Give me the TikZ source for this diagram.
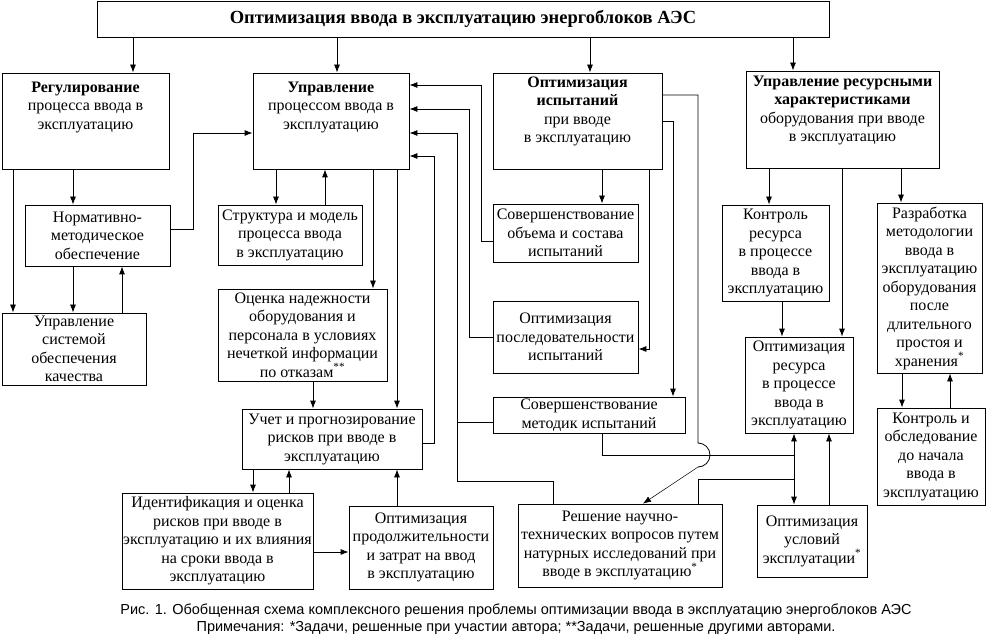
\documentclass[tikz,border=0pt]{standalone}
\usepackage{fontspec}
\setmainfont{Liberation Serif}
\setsansfont{Liberation Sans}
\usetikzlibrary{arrows.meta}
\tikzset{
  blok/.style={draw, line width=0.8pt, inner sep=1pt, align=center, font=\fontsize{16}{18.5}\selectfont},
  txt/.style={inner sep=0pt, align=center, anchor=north, font=\fontsize{16}{18.5}\selectfont},
  lin/.style={line width=0.8pt},
  arr/.style={line width=0.8pt, -{Latex[length=8pt,width=6pt]}},
  arrboth/.style={line width=0.8pt, {Latex[length=8pt,width=6pt]}-{Latex[length=8pt,width=6pt]}},
}
\begin{document}
\begin{tikzpicture}[x=1pt,y=-1pt]
\useasboundingbox (0,0) rectangle (986,639);
% upper row
\node[blok, minimum width=732pt, minimum height=36pt, font=\fontsize{18.5}{22}\selectfont\bfseries] (title) at (463,19) {Оптимизация ввода в эксплуатацию энергоблоков АЭС};
\node[blok, minimum width=167pt, minimum height=96pt] (reg) at (85.5,121) {};
\node[txt] (regtxt) at ([yshift=-9pt]reg.north) {\textbf{Регулирование}\\процесса ввода в\\эксплуатацию};
\node[blok, minimum width=156pt, minimum height=96pt] (upr) at (331,121) {};
\node[txt] (uprtxt) at ([yshift=-9pt]upr.north) {\textbf{Управление}\\процессом ввода в\\эксплуатацию};
\node[blok, minimum width=169pt, minimum height=96pt] (opt) at (577.5,121) {};
\node[txt] (opttxt) at ([yshift=-4pt]opt.north) {\textbf{Оптимизация}\\\textbf{испытаний}\\при вводе\\в эксплуатацию};
\node[blok, minimum width=193pt, minimum height=97pt] (res) at (842.5,119.5) {};
\node[txt] (restxt) at ([yshift=-5pt]res.north) {\textbf{Управление ресурсными}\\\textbf{характеристиками}\\оборудования при вводе\\в эксплуатацию};
% left column
\node[blok, minimum width=145pt, minimum height=61pt] (norm) at (97.5,235.5) {Нормативно-\\методическое\\обеспечение};
\node[blok, minimum width=144pt, minimum height=72pt] (kach) at (74,349) {Управление\\системой\\обеспечения\\качества};
% second column
\node[blok, minimum width=144pt, minimum height=60pt] (strukt) at (290,235) {Структура и модель\\процесса ввода\\в эксплуатацию};
\node[blok, minimum width=169pt, minimum height=92pt] (nadezh) at (302.5,335) {Оценка надежности\\оборудования и\\персонала в условиях\\нечеткой информации\\по отказам\textsuperscript{**}};
\node[blok, minimum width=180pt, minimum height=60pt] (riski) at (332,439) {Учет и прогнозирование\\рисков при вводе в\\эксплуатацию};
\node[blok, minimum width=191pt, minimum height=96pt] (ident) at (217.5,541) {Идентификация и оценка\\рисков при вводе в\\эксплуатацию и их влияния\\на сроки ввода в\\эксплуатацию};
\node[blok, minimum width=144pt, minimum height=83pt] (prod) at (421,547.5) {Оптимизация\\продолжительности\\и затрат на ввод\\в эксплуатацию};
% third column
\node[blok, minimum width=145pt, minimum height=58pt] (obyom) at (565.5,233) {Совершенствование\\объема и состава\\испытаний};
\node[blok, minimum width=145pt, minimum height=72pt] (posl) at (565.5,337) {Оптимизация\\последовательности\\испытаний};
\node[blok, minimum width=192pt, minimum height=36pt] (metod) at (589,415) {Совершенствование\\методик испытаний};
\node[blok, minimum width=204pt, minimum height=83pt] (resh) at (620,545.5) {Решение научно-\\технических вопросов путем\\натурных исследований при\\вводе в эксплуатацию\textsuperscript{*}};
% right columns
\node[blok, minimum width=107pt, minimum height=96pt] (kontr) at (775.5,253) {Контроль\\ресурса\\в процессе\\ввода в\\эксплуатацию};
\node[blok, minimum width=108pt, minimum height=96pt] (optres) at (799,385) {Оптимизация\\ресурса\\в процессе\\ввода в\\эксплуатацию};
\node[blok, minimum width=110pt, minimum height=72pt] (usl) at (812,541) {Оптимизация\\условий\\эксплуатации\textsuperscript{*}};
\node[blok, minimum width=105pt, minimum height=170pt] (razr) at (929.5,288) {Разработка\\методологии\\ввода в\\эксплуатацию\\оборудования\\после\\длительного\\простоя и\\хранения\textsuperscript{*}};
\node[blok, minimum width=108pt, minimum height=97pt] (obsl) at (931,456.5) {Контроль и\\обследование\\до начала\\ввода в\\эксплуатацию};
% caption
\node[inner sep=0pt, align=center, font=\sffamily\fontsize{14.5}{17}\selectfont] (cap) at (516,619) {Рис. 1. Обобщенная схема комплексного решения проблемы оптимизации ввода в эксплуатацию энергоблоков АЭС\\Примечания: *Задачи, решенные при участии автора; **Задачи, решенные другими авторами.};

% from the title
\draw[arr] (title.south -| 133,0) -- (reg.north -| 133,0);
\draw[arr] (title.south -| 337,0) -- (upr.north -| 337,0);
\draw[arr] (title.south -| 590,0) -- (opt.north -| 590,0);
\draw[arr] (title.south -| 793,0) -- (res.north -| 793,0);
% left column
\draw[arr] (reg.south -| 73,0) -- (norm.north -| 73,0);
\draw[arr] (reg.south -| 13,0) -- (kach.north -| 13,0);
\draw[arr] (norm.south -| 73,0) -- (kach.north -| 73,0);
\draw[arr] (kach.north -| 122,0) -- (norm.south -| 122,0);
\draw[arr] (norm.east |- 0,229) -| (193,133) -- (upr.west |- 0,133);
% second column
\draw[arr] (upr.south -| 276,0) -- (strukt.north -| 276,0);
\draw[arr] (strukt.north -| 325,0) -- (upr.south -| 325,0);
\draw[arr] (upr.south -| 373,0) -- (nadezh.north -| 373,0);
\draw[arr] (upr.south -| 397,0) -- (riski.north -| 397,0);
\draw[arr] (nadezh.south -| 313,0) -- (riski.north -| 313,0);
\draw[arr] (riski.south -| 253,0) -- (ident.north -| 253,0);
\draw[arr] (ident.north -| 289,0) -- (riski.south -| 289,0);
\draw[arr] (ident.east |- 0,552) -- (prod.west |- 0,552);
\draw[arr] (prod.north -| 397,0) -- (riski.south -| 397,0);
\draw[arr] (riski.east |- 0,443) -| (434,156) -- (upr.east |- 0,156);
% back to upr
\draw[arr] (obyom.west |- 0,241) -| (481,85) -- (upr.east |- 0,85);
\draw[arr] (posl.west |- 0,337) -| (469,109) -- (upr.east |- 0,109);
\draw[arr] (resh.north -| 553,0) |- (457,481) -- (457,133) -- (upr.east |- 0,133);
\draw[lin] (metod.west |- 0,422) -- (457,422);
% third column
\draw[arr] (opt.south -| 602,0) -- (obyom.north -| 602,0);
\draw[arr] (opt.south -| 649,0) |- (posl.east |- 0,349);
\draw[arr] (opt.east |- 0,121) -| (metod.north -| 673,0);
\draw[lin] (opt.east |- 0,95) -| (698,443) arc[start angle=-90, end angle=90, radius=12] coordinate (jump);
\draw[arr, line width=0.5pt] (jump) -- (resh.north -| 643,0);
\draw[lin] (metod.south -| 602,0) |- (794,455);
\draw[lin] (resh.north -| 698,0) |- (794,479);
\draw[arrboth] (optres.south -| 794,0) -- (usl.north -| 794,0);
\draw[arr] (usl.north -| 829,0) -- (optres.south -| 829,0);
% right columns
\draw[arr] (res.south -| 769,0) -- (kontr.north -| 769,0);
\draw[arr] (res.south -| 842,0) -- (optres.north -| 842,0);
\draw[arr] (res.south -| 901,0) -- (razr.north -| 901,0);
\draw[arr] (kontr.south -| 782,0) -- (optres.north -| 782,0);
\draw[arr] (razr.south -| 902,0) -- (obsl.north -| 902,0);
\draw[arr] (obsl.north -| 950,0) -- (razr.south -| 950,0);
\end{tikzpicture}
\end{document}
